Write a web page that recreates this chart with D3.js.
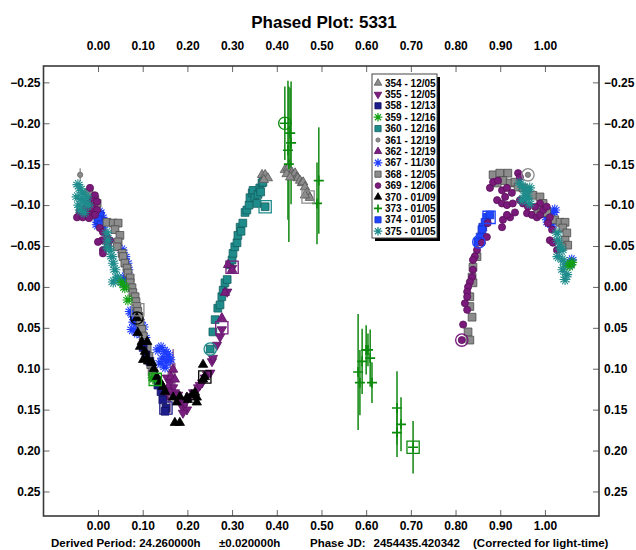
<!DOCTYPE html>
<html>
<head>
<meta charset="utf-8">
<script src="https://cdn.jsdelivr.net/npm/d3@7"></script>
<style>
  html, body { margin: 0; padding: 0; background: #fff; }
  svg { display: block; font-family: Arial, "Liberation Sans", sans-serif; }
</style>
</head>
<body>
<svg id="chart" width="636" height="550"></svg>
<script>
// ---- tick values ----
const phaseTicks = [0.00, 0.10, 0.20, 0.30, 0.40, 0.50, 0.60, 0.70, 0.80, 0.90, 1.00];
const magTicks = [-0.25, -0.20, -0.15, -0.10, -0.05, 0.00, 0.05, 0.10, 0.15, 0.20, 0.25];

// ---- sessions (legend order) ----
const sessionIds = ["354", "355", "358", "359", "360", "361", "362", "367", "368", "369", "370", "373", "374", "375"];
const sessionDates = ["12/05", "12/05", "12/13", "12/16", "12/16", "12/19", "12/19", "11/30", "12/05", "12/06", "01/09", "01/05", "01/05", "01/05"];

// ---- observations: [phase, magnitude] or [phase, magnitude, error] ----
const s354 = [[0.367,-0.137],[0.374,-0.137],[0.380,-0.133],[0.371,-0.131],
  [0.418,-0.143],[0.425,-0.145],[0.434,-0.140],[0.436,-0.137],[0.441,-0.139],[0.445,-0.134],
  [0.447,-0.133],[0.452,-0.130],[0.456,-0.127],[0.459,-0.128],[0.463,-0.122],[0.468,-0.115],
  [0.470,-0.112],[0.474,-0.109],[0.463,-0.112],[0.422,-0.138],[0.430,-0.134]];

const s355 = [[0.154,0.111],[0.161,0.117],[0.168,0.123],[0.172,0.129],[0.179,0.132],[0.183,0.138],
  [0.188,0.144],[0.190,0.148],[0.199,0.150],[0.190,0.154],[0.206,0.134],[0.213,0.129],[0.224,0.123],
  [0.233,0.117],[0.239,0.111],[0.244,0.107],[0.251,0.105],[0.255,0.091],[0.257,0.087],[0.266,0.071],
  [0.273,0.061],[0.277,0.052],[0.289,0.006],[0.300,-0.023],[0.195,0.142],[0.228,0.120]];

const s358 = [[0.101,0.074],[0.107,0.083],[0.116,0.091],[0.134,0.120],[0.141,0.128],[0.145,0.138],
  [0.152,0.148],[0.150,0.152]];

const s359 = [[0.054,-0.005],[0.060,0.001],[0.067,0.016],[0.123,0.111],[0.128,0.113],[1.056,-0.026],[1.060,-0.030]];

const s360 = [[0.251,0.076],[0.257,0.055],[0.262,0.040],[0.268,0.026],[0.273,0.022],[0.277,0.012],
  [0.280,0.004],[0.284,-0.005],[0.289,-0.009],[0.295,-0.027],[0.300,-0.033],[0.302,-0.041],
  [0.306,-0.049],[0.311,-0.054],[0.313,-0.063],[0.318,-0.073],[0.320,-0.068],[0.324,-0.078],
  [0.329,-0.091],[0.333,-0.094],[0.338,-0.100],[0.340,-0.109],[0.345,-0.115],[0.347,-0.118],
  [0.351,-0.109],[0.356,-0.102],[0.358,-0.113],[0.362,-0.121],[0.364,-0.116],[0.367,-0.127],
  [0.369,-0.128],[0.374,-0.098]];

const s361 = [[-0.040,-0.137,0.008],[0.962,-0.137,0]];

const s362 = [[0.157,0.122,0.020],[0.161,0.129,0.025],[0.163,0.110,0.020],[0.168,0.101,0.025],
  [0.172,0.113,0.020],[0.150,0.135,0.015],[0.277,0.038,0],[0.284,0.007,0],[0.291,-0.027,0],[0.300,-0.021,0]];

const s367 = [[0.004,-0.091],[0.009,-0.085],[0.000,-0.079],[-0.002,-0.076],[0.011,-0.073],
  [0.054,-0.045],[0.060,-0.037],[0.065,-0.029],[0.067,-0.021],[0.060,-0.012],[0.056,-0.005],
  [0.072,0.030],[0.078,0.034],[0.083,0.040],[0.089,0.046],[0.094,0.043],[0.101,0.049],[0.076,0.052],
  [0.087,0.056],[0.098,0.059],[0.105,0.062],[0.080,0.043],
  [0.134,0.077],[0.141,0.074],[0.150,0.079],[0.157,0.083],[0.145,0.087],[0.154,0.091],[0.139,0.093],
  [0.161,0.089],[0.150,0.098],
  [1.004,-0.085],[1.011,-0.082],[1.018,-0.091],[1.022,-0.094],[1.016,-0.076],[1.007,-0.079],
  [1.060,-0.033],[1.056,-0.027]];

const s368 = [[-0.020,-0.115],[-0.007,-0.106],[-0.002,-0.102],[-0.013,-0.091],[-0.029,-0.088],
  [-0.040,-0.090],[0.020,-0.079],[0.034,-0.078],[0.045,-0.078],[0.038,-0.070],[0.049,-0.063],
  [0.045,-0.055],[0.043,-0.049],[0.054,-0.041],[0.056,-0.037],[0.060,-0.029],[0.065,-0.023],
  [0.067,-0.017],[0.072,-0.011],[0.072,-0.005],[0.076,0.001],[0.078,0.007],[0.083,0.012],
  [0.085,0.018],[0.087,0.024],[0.089,0.030],[0.092,0.036],[0.094,0.044],[0.098,0.052],[0.101,0.060],
  [0.105,0.068],[0.110,0.075],[0.114,0.085],[0.118,0.095],[0.121,0.104],[0.123,0.110],
  [0.884,-0.137],[0.899,-0.139],[0.917,-0.139],[0.906,-0.130],[0.893,-0.127],[0.922,-0.127],
  [0.933,-0.128],[0.940,-0.122],[0.951,-0.121],[0.960,-0.115],[0.973,-0.112],[0.989,-0.110],
  [0.996,-0.102],[0.984,-0.096],[0.993,-0.091],[1.004,-0.091],[1.022,-0.082],[1.034,-0.079],
  [1.045,-0.079],[1.040,-0.072],[1.049,-0.066],[1.045,-0.057],[1.051,-0.051],[1.038,-0.049],
  [0.848,-0.037],[0.839,-0.024],[0.837,-0.012],[0.839,-0.005],[0.832,0.012],[0.832,0.024],
  [0.837,0.037],[0.828,0.055],[0.832,0.065]];

const s369 = [[-0.018,-0.121],[-0.007,-0.112],[-0.013,-0.106],[-0.002,-0.104],[-0.022,-0.102],
  [-0.029,-0.096],[-0.011,-0.096],[-0.002,-0.094],[-0.040,-0.091],[-0.025,-0.090],[-0.013,-0.088],
  [-0.007,-0.088],[-0.047,-0.085],[-0.034,-0.085],[-0.020,-0.084],[0.004,-0.072],[0.011,-0.067],
  [0.020,-0.060],[0.009,-0.057],[0.000,-0.055],[0.027,-0.057],[0.022,-0.051],[0.011,-0.045],[0.011,-0.041],
  [0.877,-0.121],[0.884,-0.128],[0.895,-0.130],[0.940,-0.139],[0.944,-0.134],[0.904,-0.118],
  [0.915,-0.121],[0.926,-0.115],[0.911,-0.110],[0.893,-0.106],[0.904,-0.102],[0.915,-0.100],
  [0.928,-0.102],[0.944,-0.106],[0.951,-0.102],[0.962,-0.098],[0.933,-0.091],[0.922,-0.085],
  [0.906,-0.082],[0.904,-0.073],[0.915,-0.088],[0.960,-0.090],[0.971,-0.088],[0.982,-0.085],
  [0.989,-0.088],[0.996,-0.094],[0.989,-0.102],[0.978,-0.098],[1.004,-0.098],[1.011,-0.085],
  [1.007,-0.078],[1.016,-0.070],[1.011,-0.057],[1.018,-0.054],[1.027,-0.045],[0.872,-0.078],
  [0.870,-0.061],[0.859,-0.054],[0.848,-0.045],[0.843,-0.037],[0.839,-0.033],[0.839,-0.021],
  [0.837,-0.012],[0.832,-0.006],[0.828,0.000],[0.826,0.006],[0.826,0.012],[0.821,0.020],
  [0.826,0.028],[0.817,0.046],[0.814,0.065]];

const s370 = [[0.087,0.038],[0.089,0.056],[0.098,0.067],[0.094,0.073],[0.110,0.067],[0.105,0.079],
  [0.110,0.087],[0.112,0.091],[0.101,0.089],[0.121,0.093],[0.125,0.100],[0.132,0.110],[0.139,0.116],
  [0.145,0.122],[0.150,0.128],[0.168,0.135],[0.176,0.141],[0.183,0.134],[0.199,0.135],[0.201,0.138],
  [0.210,0.132],[0.217,0.129],[0.221,0.135],[0.221,0.141],[0.172,0.166],[0.183,0.166],
  [0.235,0.095],[0.239,0.110],[0.235,0.113]];

const s373 = [[0.418,-0.200,0.045],[0.430,-0.188,0.055],[0.432,-0.176,0.075],[0.425,-0.167,0.085],
  [0.427,-0.150,0.095],[0.494,-0.130,0.065],[0.490,-0.102,0.050],
  [0.582,0.104,0.071],[0.586,0.117,0.040],[0.591,0.091,0.040],[0.600,0.077,0.030],[0.604,0.077,0.020],
  [0.609,0.087,0.035],[0.613,0.117,0.025],[0.669,0.148,0.045],[0.669,0.178,0.030],[0.678,0.168,0.033],
  [0.705,0.196,0.032]];

const s374 = [[0.870,-0.085],[0.877,-0.088],[0.866,-0.079],[0.861,-0.073],[0.859,-0.070],[0.855,-0.061],
  [0.850,-0.055],[0.004,-0.088],[0.000,-0.082],[0.007,-0.076]];

const s375 = [[-0.045,-0.125],[-0.040,-0.120],[-0.034,-0.115],[-0.047,-0.110],[-0.036,-0.107],
  [-0.043,-0.100],[-0.029,-0.103],[-0.040,-0.094],[-0.031,-0.091],[-0.025,-0.110],[-0.022,-0.100],
  [0.020,-0.066],[0.022,-0.057],[0.020,-0.049],[0.027,-0.045],[0.031,-0.037],[0.034,-0.029],
  [0.038,-0.021],[0.043,-0.012],[0.045,-0.009],[0.034,-0.006],
  [0.944,-0.127],[0.951,-0.122],[0.960,-0.118],[0.966,-0.121],[0.955,-0.112],[0.962,-0.109],
  [0.949,-0.106],[0.966,-0.102],[1.027,-0.066],[1.029,-0.057],[1.034,-0.049],[1.038,-0.045],
  [1.029,-0.037],[1.040,-0.033],[1.045,-0.027],[1.040,-0.021],[1.049,-0.015],[1.045,-0.009]];

// first / last observation of each session: [phase, magnitude, ring shape, session]
const sessionEnds = [[0.251,0.076,"circle","360"],[0.374,-0.098,"square","360"],
  [0.418,-0.200,"circle","373"],[0.705,0.196,"square","373"],[0.470,-0.110,"square","354"],
  [0.300,-0.024,"square","362"],[0.277,0.050,"square","355"],[0.087,0.038,"circle","370"],
  [0.239,0.110,"square","370"],[0.152,0.148,"square","358"],[0.128,0.113,"square","359"],
  [0.089,0.028,"square","368"],[0.875,-0.085,"square","374"],[0.852,-0.055,"circle","374"],
  [0.814,0.065,"circle","369"],[0.962,-0.137,"circle","361"]];

// ---- marker styles per session ----
const styles = {
  "354": { shape: "triUp",   fill: "#8c8c8c", stroke: "#555" },
  "355": { shape: "triDown", fill: "#7a1f80", stroke: "#5a1060" },
  "358": { shape: "square",  fill: "#1c1c8a", stroke: "#10105a" },
  "359": { shape: "star",    fill: "none",    stroke: "#13a013" },
  "360": { shape: "square",  fill: "#1f8c8c", stroke: "#135e5e" },
  "361": { shape: "dot",     fill: "#8a8a8a", stroke: "#666" },
  "362": { shape: "triUp",   fill: "#7a1f80", stroke: "#5a1060" },
  "367": { shape: "star",    fill: "none",    stroke: "#1e3cff" },
  "368": { shape: "square",  fill: "#8c8c8c", stroke: "#4a4a4a" },
  "369": { shape: "circle",  fill: "#7a1a7a", stroke: "#5a105a" },
  "370": { shape: "triUp",   fill: "#000",    stroke: "#000" },
  "373": { shape: "plus",    fill: "none",    stroke: "#0a8a0a" },
  "374": { shape: "square",  fill: "#2045ff", stroke: "#1530c0" },
  "375": { shape: "star",    fill: "none",    stroke: "#1f8c8c" }
};

const seriesData = { "354": s354, "355": s355, "358": s358, "359": s359, "360": s360, "361": s361,
  "362": s362, "367": s367, "368": s368, "369": s369, "370": s370, "373": s373, "374": s374, "375": s375 };

// drawing order (back to front)
const drawOrder = ["367", "374", "368", "369", "375", "360", "355", "362", "358", "359", "370", "354", "361", "373"];

// ---- scales ----
const svg = d3.select("#chart");
const x = d3.scaleLinear().domain([-0.122, 1.121]).range([43.5, 599]);
const y = d3.scaleLinear().domain([-0.27, 0.28]).range([66, 516]);
const fmt = d3.format(".2f");

function markerPath(shape, k, spokes) {
  k = k || 1;
  if (shape === "square") return d3.symbol(d3.symbolSquare, 60 * k * k)();
  if (shape === "circle") return d3.symbol(d3.symbolCircle, 40 * k * k)();
  if (shape === "dot") return d3.symbol(d3.symbolCircle, 22 * k * k)();
  if (shape === "triUp" || shape === "triDown") return d3.symbol(d3.symbolTriangle, 38 * k * k)();
  if (shape === "plus") {
    const r = 5 * k;
    return `M${-r},0L${r},0M0,${-r}L0,${r}`;
  }
  if (shape === "star") {
    const r = 5.4 * k;
    const n = spokes || 6;
    let p = "";
    for (let i = 0; i < n; i++) {
      const a = i * Math.PI / n;
      const dx = r * Math.cos(a), dy = r * Math.sin(a);
      p += `M${(-dx).toFixed(2)},${(-dy).toFixed(2)}L${dx.toFixed(2)},${dy.toFixed(2)}`;
    }
    return p;
  }
  return "";
}

function applyStyle(sel, st, w) {
  const lineLike = st.shape === "star" || st.shape === "plus";
  sel.attr("fill", lineLike ? "none" : st.fill)
     .attr("stroke", st.stroke)
     .attr("stroke-width", w || (st.shape === "plus" ? 1.7 : (lineLike ? 1.1 : 0.8)));
}

// ---- title ----
svg.append("text")
  .attr("x", 324).attr("y", 28)
  .attr("text-anchor", "middle")
  .attr("font-size", 17).attr("font-weight", "bold")
  .text("Phased Plot: 5331");

// ---- axes ----
function styleAxis(g) {
  g.select(".domain").remove();
  g.selectAll(".tick line").attr("stroke", "#666").attr("stroke-width", 1);
  g.selectAll(".tick text")
    .attr("font-size", 12).attr("font-weight", "bold")
    .attr("fill", "#000")
    .attr("font-family", "Arial, 'Liberation Sans', sans-serif");
}

svg.append("g").attr("transform", "translate(0,66)")
  .call(d3.axisTop(x).tickValues(phaseTicks).tickFormat(fmt).tickSize(-6).tickPadding(16))
  .call(styleAxis);
svg.append("g").attr("transform", "translate(0,516)")
  .call(d3.axisBottom(x).tickValues(phaseTicks).tickFormat(fmt).tickSize(-6).tickPadding(5))
  .call(styleAxis);
svg.append("g").attr("transform", "translate(43.5,0)")
  .call(d3.axisLeft(y).tickValues(magTicks).tickFormat(fmt).tickSize(-6).tickPadding(3))
  .call(styleAxis);
svg.append("g").attr("transform", "translate(599,0)")
  .call(d3.axisRight(y).tickValues(magTicks).tickFormat(fmt).tickSize(-6).tickPadding(5))
  .call(styleAxis);

// ---- data ----
const plot = svg.append("g");

// error bars (drawn beneath markers)
drawOrder.forEach(id => {
  const pts = seriesData[id].filter(d => d.length > 2 && d[2] > 0);
  plot.append("g").selectAll("line").data(pts).join("line")
    .attr("x1", d => x(d[0])).attr("x2", d => x(d[0]))
    .attr("y1", d => y(d[1] - d[2])).attr("y2", d => y(d[1] + d[2]))
    .attr("stroke", id === "373" ? "#1f8f1f" : styles[id].stroke)
    .attr("stroke-width", id === "373" ? 1.6 : 1);
});

drawOrder.forEach(id => {
  const st = styles[id];
  const g = plot.append("g");
  const p = g.selectAll("path").data(seriesData[id]).join("path")
    .attr("d", markerPath(st.shape))
    .attr("transform", d => `translate(${x(d[0])},${y(d[1])})${st.shape === "triDown" ? " rotate(180)" : ""}`);
  applyStyle(p, st);
});

// open rings marking the first and last point of a session
plot.append("g").selectAll("path").data(sessionEnds).join("path")
  .attr("d", d => d[2] === "circle" ? d3.symbol(d3.symbolCircle, 120)() : d3.symbol(d3.symbolSquare, 150)())
  .attr("transform", d => `translate(${x(d[0])},${y(d[1])})`)
  .attr("fill", "none")
  .attr("stroke", d => styles[d[3]].shape === "star" || styles[d[3]].shape === "plus" ? styles[d[3]].stroke : styles[d[3]].fill)
  .attr("stroke-width", 1.3);

// ---- frame ----
svg.append("rect")
  .attr("x", 43.5).attr("y", 66).attr("width", 599 - 43.5).attr("height", 516 - 66)
  .attr("fill", "none").attr("stroke", "#3a3a3a").attr("stroke-width", 1.6);

// ---- legend ----
const lg = svg.append("g").attr("transform", "translate(372,74)");
lg.append("rect").attr("x", 3).attr("y", 3).attr("width", 65).attr("height", 164).attr("fill", "#000");
lg.append("rect").attr("x", 0).attr("y", 0).attr("width", 65).attr("height", 164)
  .attr("fill", "#fff").attr("stroke", "#444").attr("stroke-width", 1);
sessionIds.forEach((id, i) => {
  const cy = 9 + i * 11.4;
  const st = styles[id];
  const m = lg.append("path")
    .attr("d", markerPath(st.shape, 0.8, 4))
    .attr("transform", `translate(6,${cy})${st.shape === "triDown" ? " rotate(180)" : ""}`);
  applyStyle(m, st, st.shape === "star" ? 1.3 : null);
  lg.append("text")
    .attr("x", 13).attr("y", cy + 3.6)
    .attr("font-size", 10).attr("font-weight", "bold")
    .text(`${id} - ${sessionDates[i]}`);
});

// ---- footer ----
const foot = [
  ["Derived Period: 24.260000h", 51],
  ["\u00b10.020000h", 219],
  ["Phase JD:", 310],
  ["2454435.420342", 373.5],
  ["(Corrected for light-time)", 473]
];
svg.append("g").selectAll("text").data(foot).join("text")
  .attr("x", d => d[1]).attr("y", 547)
  .attr("font-size", 11.5).attr("font-weight", "bold")
  .text(d => d[0]);
</script>
</body>
</html>
